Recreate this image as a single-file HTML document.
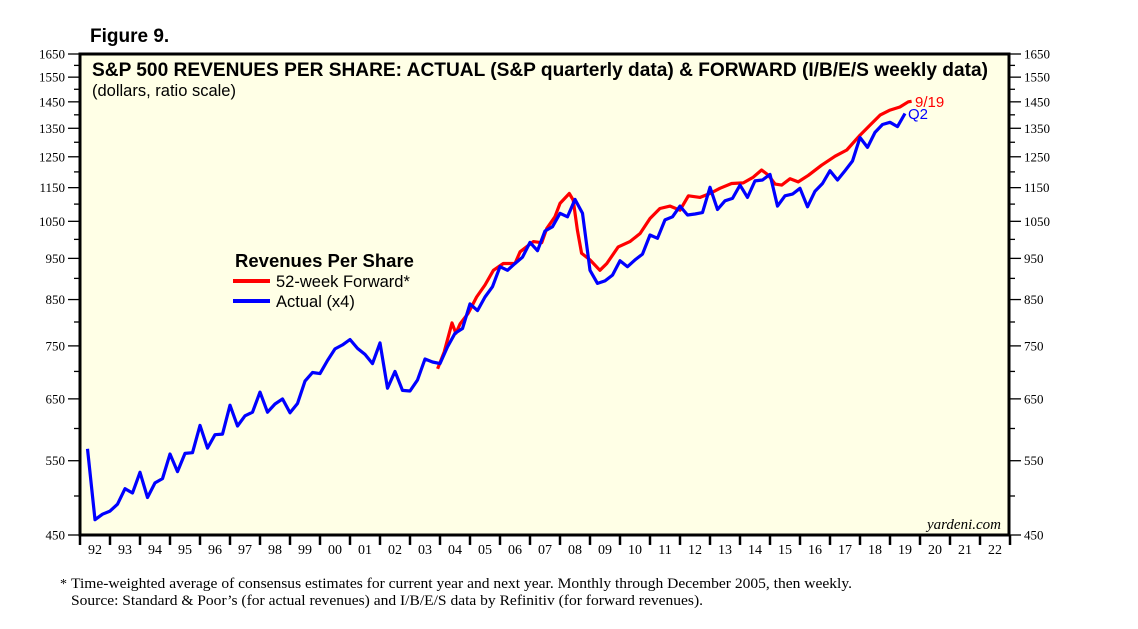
<!DOCTYPE html>
<html><head><meta charset="utf-8">
<style>
body{margin:0;background:#fff;width:1138px;height:629px;overflow:hidden;}
svg{display:block;}
</style></head>
<body>
<svg id="chart" width="1138" height="629" xmlns="http://www.w3.org/2000/svg">
<text x="90" y="42" font-family="Liberation Sans, sans-serif" font-size="19" font-weight="bold">Figure 9.</text>
<rect x="80" y="54" width="929" height="481" fill="#ffffe6"/>
<g id="grid"></g>
<g id="series"></g>
<rect x="80" y="54" width="929" height="481" fill="none" stroke="#000" stroke-width="3"/>
<text x="92" y="76" font-family="Liberation Sans, sans-serif" font-size="19" font-weight="bold" textLength="896" lengthAdjust="spacingAndGlyphs">S&amp;P 500 REVENUES PER SHARE: ACTUAL (S&amp;P quarterly data) &amp; FORWARD (I/B/E/S weekly data)</text>
<text x="92" y="96" font-family="Liberation Sans, sans-serif" font-size="16.5">(dollars, ratio scale)</text>
<g font-family="Liberation Sans, sans-serif">
<text x="235" y="267" font-size="18.5" font-weight="bold">Revenues Per Share</text>
<line x1="233" y1="281" x2="270" y2="281" stroke="#f00" stroke-width="4"/>
<text x="276" y="287" font-size="16.5">52-week Forward*</text>
<line x1="233" y1="301" x2="270" y2="301" stroke="#00f" stroke-width="4"/>
<text x="276" y="307" font-size="16.5">Actual (x4)</text>
</g>
<text x="915" y="107" font-family="Liberation Sans, sans-serif" font-size="15" fill="#f00">9/19</text>
<text x="908" y="119" font-family="Liberation Sans, sans-serif" font-size="15" fill="#00f">Q2</text>
<text x="1001" y="529" text-anchor="end" font-family="Liberation Serif, serif" font-size="15" font-style="italic">yardeni.com</text>
<text x="60" y="588" font-family="Liberation Serif, serif" font-size="14">*</text>
<text x="71" y="588" font-family="Liberation Serif, serif" font-size="14.5" textLength="781" lengthAdjust="spacingAndGlyphs">Time-weighted average of consensus estimates for current year and next year. Monthly through December 2005, then weekly.</text>
<text x="71" y="605" font-family="Liberation Serif, serif" font-size="14.5" textLength="632" lengthAdjust="spacingAndGlyphs">Source: Standard &amp; Poor’s (for actual revenues) and I/B/E/S data by Refinitiv (for forward revenues).</text>
</svg>
<script>
const yTicks=[450,550,650,750,850,950,1050,1150,1250,1350,1450,1550,1650];
const yMinor=[500,600,700,800,900,1000,1100,1200,1300,1400,1500,1600];
const yearLabels=["92","93","94","95","96","97","98","99","00","01","02","03","04","05","06","07","08","09","10","11","12","13","14","15","16","17","18","19","20","21","22"];
const actualStart=1992.25;
const actualValues=[568,469,476,480,489,510,504,533,498,518,524,560,534,561,562,605,569,590,591,639,604,621,627,662,627,641,650,626,642,682,698,696,721,744,752,763,745,733,715,756,669,700,665,664,684,724,718,715,748,776,786,840,825,856,880,929,920,937,953,992,970,1023,1035,1073,1063,1114,1073,920,888,894,908,944,929,946,961,1012,1003,1054,1063,1094,1068,1071,1075,1151,1084,1110,1117,1158,1120,1171,1174,1192,1094,1125,1130,1148,1092,1139,1163,1204,1174,1204,1236,1317,1282,1335,1364,1372,1356,1405];
const forwardDates=[2003.92,2004.14,2004.40,2004.53,2004.67,2004.94,2005.22,2005.50,2005.78,2006.11,2006.50,2006.67,2007.11,2007.39,2007.56,2007.83,2008.00,2008.31,2008.44,2008.58,2008.72,2009.00,2009.33,2009.56,2009.94,2010.33,2010.67,2011.00,2011.33,2011.67,2012.00,2012.28,2012.67,2013.00,2013.33,2013.72,2014.11,2014.44,2014.72,2014.94,2015.17,2015.39,2015.67,2015.94,2016.28,2016.72,2017.17,2017.56,2018.00,2018.33,2018.67,2019.00,2019.33,2019.61,2019.72];
const forwardValues=[705,738,798,776,796,819,856,884,920,937,937,967,994,991,1030,1063,1102,1132,1112,1025,963,946,920,937,980,994,1016,1058,1087,1094,1082,1125,1120,1132,1148,1163,1165,1183,1206,1190,1161,1158,1178,1168,1189,1222,1252,1273,1325,1361,1399,1418,1430,1450,1452];

const L=80,R=1009,T=54,B=535,y0=1992;
const NS="http://www.w3.org/2000/svg";
const xs=t=>L+(t-y0)*30;
const ys=v=>B-(Math.log(v/450)/Math.log(1650/450))*(B-T);
const grid=document.getElementById('grid'),series=document.getElementById('series'),svg=document.getElementById('chart');
function mk(tag,attrs,parent){const e=document.createElementNS(NS,tag);for(const k in attrs)e.setAttribute(k,attrs[k]);parent.appendChild(e);return e;}
yTicks.forEach(v=>{
  const y=ys(v);
  const t1=mk('line',{x1:L-12,x2:L,y1:y,y2:y,stroke:'#000','stroke-width':1.3},svg);
  
  
  const t2=mk('line',{x1:R,x2:R+12,y1:y,y2:y,stroke:'#000','stroke-width':1.3},svg);
  
  
  const a=mk('text',{x:L-15,y:y+4.5,'text-anchor':'end','font-family':'Liberation Serif, serif','font-size':13},svg);a.textContent=v;
  
  
  const b=mk('text',{x:R+15,y:y+4.5,'font-family':'Liberation Serif, serif','font-size':13},svg);b.textContent=v;
  
  
});
yMinor.forEach(v=>{
  const y=ys(v);
  const a=mk('line',{x1:L-6,x2:L,y1:y,y2:y,stroke:'#000','stroke-width':1.3},svg);
  
  
  const b=mk('line',{x1:R,x2:R+6,y1:y,y2:y,stroke:'#000','stroke-width':1.3},svg);
  
  
});
yearLabels.forEach((lab,i)=>{
  const x=xs(y0+i);
  const t=mk('line',{x1:x,x2:x,y1:B,y2:B+10,stroke:'#000','stroke-width':2.5},svg);
  
  
  const tx=mk('text',{x:x+15,y:B+19,'text-anchor':'middle','font-family':'Liberation Serif, serif','font-size':14},svg);tx.textContent=lab;
  
  
});
const lastTick=mk('line',{x1:xs(y0+yearLabels.length),x2:xs(y0+yearLabels.length),y1:B,y2:B+10,stroke:'#000','stroke-width':2.5},svg);


const fpts=forwardDates.map((d,i)=>xs(d).toFixed(1)+','+ys(forwardValues[i]).toFixed(1)).join(' ');
const fl=mk('polyline',{points:fpts,fill:'none',stroke:'#f00','stroke-width':3.2,'stroke-linejoin':'round'},series);


const apts=actualValues.map((v,i)=>xs(actualStart+i*0.25).toFixed(1)+','+ys(v).toFixed(1)).join(' ');
const al=mk('polyline',{points:apts,fill:'none',stroke:'#00f','stroke-width':3.2,'stroke-linejoin':'round'},series);


</script>
</body></html>
